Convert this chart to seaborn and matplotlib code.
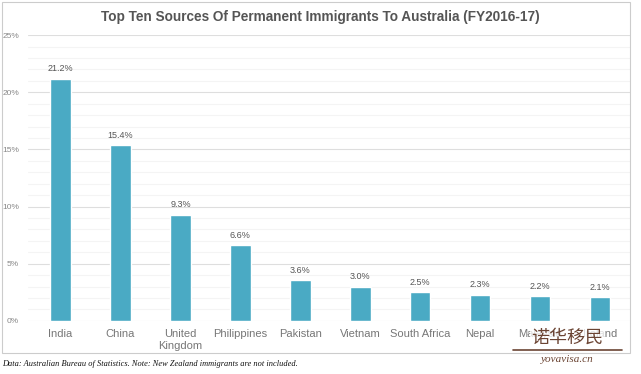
import pandas as pd
import seaborn as sns
import matplotlib.pyplot as plt
from matplotlib.patches import Rectangle

countries = ['India', 'China', 'United\nKingdom', 'Philippines', 'Pakistan',
             'Vietnam', 'South Africa', 'Nepal', 'Malaysia', 'Ireland']
shares = [21.2, 15.4, 9.3, 6.6, 3.6, 3.0, 2.5, 2.3, 2.2, 2.1]
y_ticks = [0, 5, 10, 15, 20, 25]

df = pd.DataFrame({'country': countries, 'share': shares})

sns.set_style('white')
plt.rcParams['font.family'] = ['Liberation Sans', 'DejaVu Sans']

fig = plt.figure(figsize=(6.41, 3.74), dpi=100)
ax = fig.add_axes([0.043, 0.142, 0.94, 0.764])

sns.barplot(data=df, x='country', y='share', color='#4aaac4', width=0.34,
            saturation=1, ax=ax, zorder=3)

# gridlines: major every 5%, faint minor every 1%
for v in range(0, 26):
    ax.axhline(v, color='#dedede' if v % 5 == 0 else '#f4f4f4',
               lw=0.8, zorder=0)

for i, v in enumerate(shares):
    ax.text(i, v + 0.45, f'{v:.1f}%', ha='center', va='bottom',
            fontsize=6.5, color='#555555')

ax.set_ylim(0, 25)
ax.set_xlim(-0.55, 9.5)
ax.set_yticks(y_ticks)
ax.set_yticklabels([f'{t}%' for t in y_ticks], fontsize=6, color='#888888')
ax.tick_params(axis='x', labelsize=8, colors='#777777', length=0, pad=6)
ax.tick_params(axis='y', length=0, pad=6)
ax.set_xlabel('')
ax.set_ylabel('')
sns.despine(ax=ax, left=True, bottom=True, top=True, right=True)

fig.text(0.5, 0.955, 'Top Ten Sources Of Permanent Immigrants To Australia (FY2016-17)',
         ha='center', va='center', fontsize=9.8, fontweight='bold', color='#555555')

# light frame around the chart
fig.patches.append(Rectangle((0.003, 0.055), 0.98, 0.94, transform=fig.transFigure,
                             fill=False, edgecolor='#cccccc', lw=0.8))

fig.text(0.003, 0.028,
         'Data: Australian Bureau of Statistics. Note: New Zealand immigrants are not included.',
         ha='left', va='center', fontsize=6, style='italic', color='#111111',
         family=['Liberation Serif', 'DejaVu Serif'])

# watermark, partly covering the last x labels as in the source image
fig.text(0.885, 0.098, '诺华移民', ha='center', va='center', fontsize=13,
         color='#6b4433', family=['Noto Sans CJK SC', 'DejaVu Sans'], zorder=10,
         bbox=dict(facecolor='white', edgecolor='none', alpha=0.75, pad=1))
fig.text(0.885, 0.038, 'yovavisa.cn', ha='center', va='center', fontsize=8,
         style='italic', color='#6b4433', family=['Liberation Serif', 'DejaVu Serif'],
         zorder=10)
fig.lines.append(plt.Line2D([0.80, 0.97], [0.064, 0.064], transform=fig.transFigure,
                            color='#6b4433', lw=1.2, zorder=10))

fig.savefig('out.png', dpi=100)
